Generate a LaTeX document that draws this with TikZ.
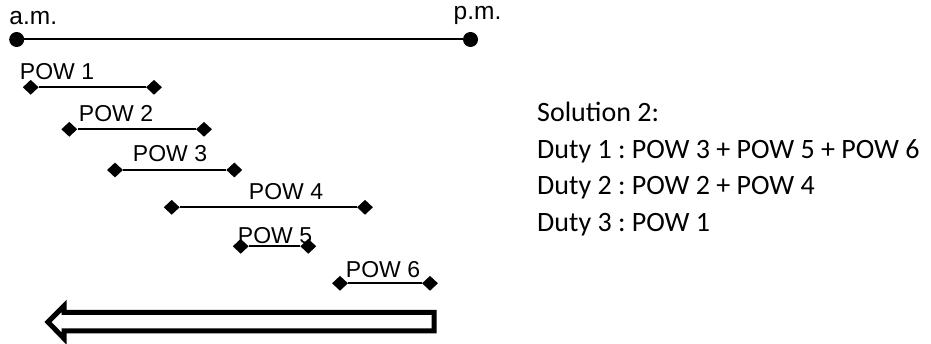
\documentclass[tikz,border=0pt]{standalone}
\usepackage{fontspec}
\setmainfont{Liberation Sans}
\newfontfamily\notefont{Carlito}
\usetikzlibrary{shapes.geometric}
\frenchspacing
\begin{document}
\begin{tikzpicture}[x=1pt,y=-1pt,
  dot/.style={circle,fill=black,inner sep=0pt,minimum size=15pt},
  tipmark/.style={diamond,fill=black,inner sep=0pt,minimum width=16pt,minimum height=15pt},
  lbl/.style={anchor=base,font=\fontsize{23}{27}\selectfont,inner sep=0pt},
  daylbl/.style={anchor=base,font=\fontsize{24.5}{28}\selectfont,inner sep=0pt},
  note/.style={anchor=base west,font=\notefont\fontsize{28}{32}\selectfont,inner sep=0pt},
  bar/.style={line width=2pt},
  bigarrow/.style={line width=5pt,line join=miter}]
\useasboundingbox (0,0) rectangle (931,344);

% day timeline
\node[dot] (am) at (16.7,39.5) {};
\node[dot] (pm) at (470.5,39.5) {};
\draw[bar] (am) -- (pm);
\node[daylbl] (amlbl) at (33.3,25) {a.m.};
\node[daylbl] (pmlbl) at (477.5,20) {p.m.};

% pieces of work
\node[tipmark] (s1) at (30.7,87.3) {};
\node[tipmark] (e1) at (154,87.3) {};
\draw[bar] (s1) -- (e1);
\node[lbl] (l1) at (57,80) {POW 1};

\node[tipmark] (s2) at (69.3,129.3) {};
\node[tipmark] (e2) at (204,129.3) {};
\draw[bar] (s2) -- (e2);
\node[lbl] (l2) at (116,121.7) {POW 2};

\node[tipmark] (s3) at (115,170) {};
\node[tipmark] (e3) at (234.3,170) {};
\draw[bar] (s3) -- (e3);
\node[lbl] (l3) at (170,161.7) {POW 3};

\node[tipmark] (s4) at (171.7,207.3) {};
\node[tipmark] (e4) at (365,207.3) {};
\draw[bar] (s4) -- (e4);
\node[lbl] (l4) at (286,200) {POW 4};

\node[tipmark] (s5) at (240.7,246.3) {};
\node[tipmark] (e5) at (308.3,246.3) {};
\draw[bar] (s5) -- (e5);
\node[lbl] (l5) at (275,244) {POW 5};

\node[tipmark] (s6) at (340,283.3) {};
\node[tipmark] (e6) at (430,283.3) {};
\draw[bar] (s6) -- (e6);
\node[lbl] (l6) at (383,278) {POW 6};

% hollow arrow pointing back in time
\draw[bigarrow] (434,312.5) -- (64,312.5) -- (64,306) -- (48,322)
  -- (64,338.5) -- (64,331) -- (434,331) -- cycle;

% duty assignment
\node[note] (sol) at (537,121.7) {Solution 2:};
\node[note] (d1) at (537,158.3) {Duty 1 : POW 3 + POW 5 + POW 6};
\node[note] (d2) at (537,195) {Duty 2 : POW 2 + POW 4};
\node[note] (d3) at (537,231.7) {Duty 3 : POW 1};
\end{tikzpicture}
\end{document}
